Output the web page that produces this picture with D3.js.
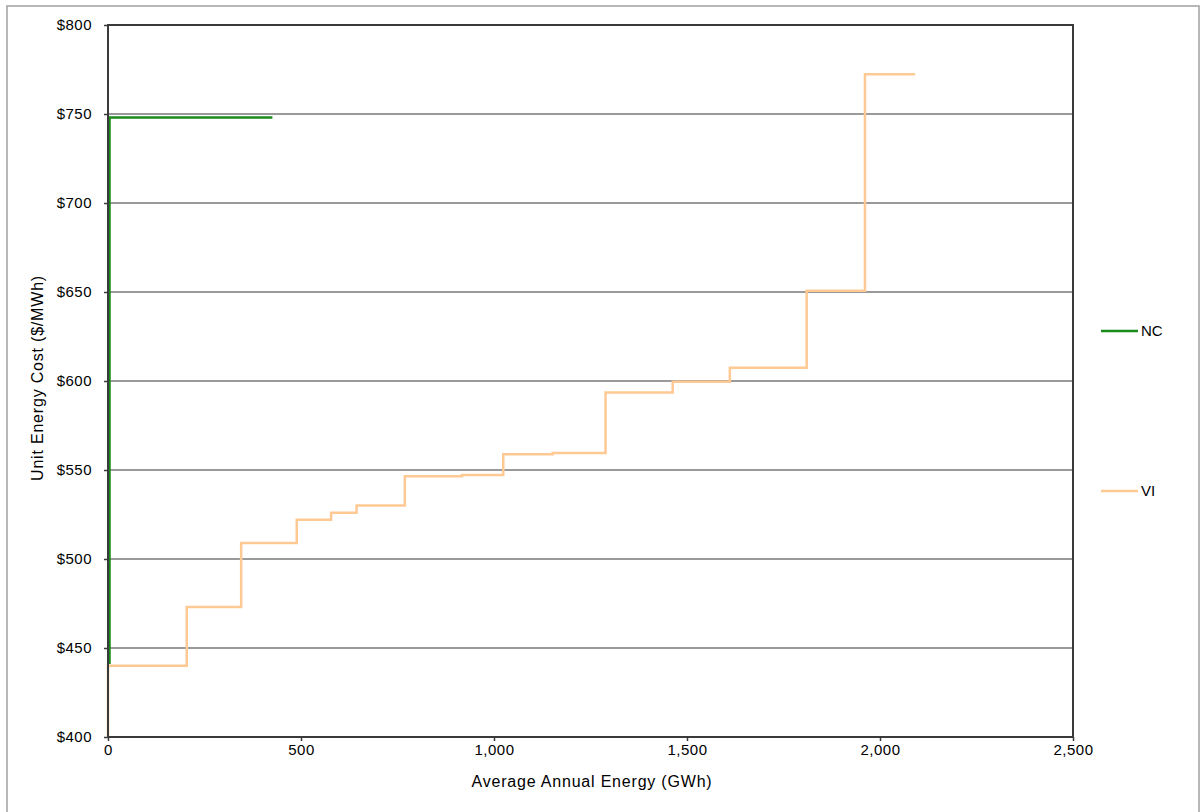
<!DOCTYPE html>
<html>
<head>
<meta charset="utf-8">
<script src="https://cdn.jsdelivr.net/npm/d3@7"></script>
<style>
  html, body { margin: 0; padding: 0; background: #ffffff; }
  svg { display: block; }
  text { font-family: "Liberation Sans", Arial, sans-serif; fill: #000; }
</style>
</head>
<body>
<svg id="chart" width="1201" height="812"></svg>
<script>
// ---- Data ----
const seriesNames = ["NC", "VI"];
const seriesColors = ["#1a8a1a", "#ffc993"];

// NC supply curve: cumulative energy (GWh) and unit cost ($/MWh)
const ncEnergy = [0, 0, 422];
const ncCost   = [441, 748, 748];

// VI supply curve: step breakpoints (energy) and cost level from that point on
const viEnergy = [0, 0, 204, 345, 489, 578, 644, 769, 917, 1024, 1152, 1289, 1463, 1611, 1810, 1961, 2091];
const viCost   = [400, 440, 473, 509, 522, 526, 530, 546.5, 547.2, 558.8, 559.5, 593.6, 599.6, 607.5, 650.7, 772.3, 772.3];

const xTicks = [0, 500, 1000, 1500, 2000, 2500];
const yTicks = [400, 450, 500, 550, 600, 650, 700, 750, 800];

const xTitle = "Average Annual Energy (GWh)";
const yTitle = "Unit Energy Cost ($/MWh)";

// ---- Layout ----
const svg = d3.select("#chart");
const plot = { left: 108, top: 25, right: 1073, bottom: 737 };
const FONT = "'Liberation Sans', Arial, sans-serif";

// outer frame
svg.append("rect")
  .attr("x", 7).attr("y", 6).attr("width", 1192).attr("height", 812)
  .attr("fill", "#fff").attr("stroke", "#a0a0a0").attr("stroke-width", 1.5);

const x = d3.scaleLinear().domain([0, 2500]).range([plot.left, plot.right]);
const y = d3.scaleLinear().domain([400, 800]).range([plot.bottom, plot.top]);

// gridlines
svg.append("g")
  .selectAll("line")
  .data(yTicks.filter(v => v > 400 && v < 800))
  .join("line")
  .attr("x1", plot.left).attr("x2", plot.right)
  .attr("y1", d => y(d)).attr("y2", d => y(d))
  .attr("stroke", "#9a9a9a").attr("stroke-width", 2);

// series
const line = d3.line().x(d => x(d[0])).y(d => y(d[1])).curve(d3.curveStepAfter);
const ncData = ncEnergy.map((e, i) => [e, ncCost[i]]);
const viData = viEnergy.map((e, i) => [e, viCost[i]]);

svg.append("path").datum(ncData)
  .attr("d", d3.line().x(d => x(d[0]) + 1.5).y(d => y(d[1])))
  .attr("fill", "none").attr("stroke", seriesColors[0]).attr("stroke-width", 2.5);

svg.append("path").datum(viData)
  .attr("d", line)
  .attr("fill", "none").attr("stroke", seriesColors[1]).attr("stroke-width", 2.5);

// plot border
svg.append("rect")
  .attr("x", plot.left).attr("y", plot.top)
  .attr("width", plot.right - plot.left).attr("height", plot.bottom - plot.top)
  .attr("fill", "none").attr("stroke", "#3a3a3a").attr("stroke-width", 2);

// axes
const xAxis = d3.axisBottom(x).tickValues(xTicks).tickSize(4).tickSizeOuter(0)
  .tickFormat(d3.format(","));
const gx = svg.append("g").attr("transform", `translate(0,${plot.bottom})`).call(xAxis);
gx.select(".domain").remove();
gx.selectAll(".tick line").attr("stroke", "#3a3a3a").attr("stroke-width", 1.5);
gx.selectAll(".tick text").attr("font-size", 15).attr("dy", "0.71em").attr("y", 7)
  .style("letter-spacing", "0.5px").style("font-family", FONT);

const yAxis = d3.axisLeft(y).tickValues(yTicks).tickSize(4).tickSizeOuter(0)
  .tickFormat(d => "$" + d);
const gy = svg.append("g").attr("transform", `translate(${plot.left},0)`).call(yAxis);
gy.select(".domain").remove();
gy.selectAll(".tick line").attr("stroke", "#3a3a3a").attr("stroke-width", 1.5);
gy.selectAll(".tick text").attr("font-size", 15).attr("x", -16)
  .style("letter-spacing", "0.5px").style("font-family", FONT);

// axis titles
svg.append("text")
  .attr("x", 592).attr("y", 787)
  .attr("text-anchor", "middle").attr("font-size", 16)
  .style("letter-spacing", "0.8px")
  .text(xTitle);

svg.append("text")
  .attr("transform", `translate(43,378) rotate(-90)`)
  .attr("text-anchor", "middle").attr("font-size", 16)
  .style("letter-spacing", "0.8px")
  .text(yTitle);

// legend
const legendY = [331, 491];
const lg = svg.append("g").selectAll("g").data(seriesNames).join("g")
  .attr("transform", (d, i) => `translate(1101,${legendY[i]})`);
lg.append("line").attr("x1", 0).attr("x2", 37).attr("y1", 0).attr("y2", 0)
  .attr("stroke", (d, i) => seriesColors[i]).attr("stroke-width", 2.5);
lg.append("text").attr("x", 40).attr("y", 0).attr("dy", "0.35em")
  .attr("font-size", 15).text(d => d);
</script>
</body>
</html>
